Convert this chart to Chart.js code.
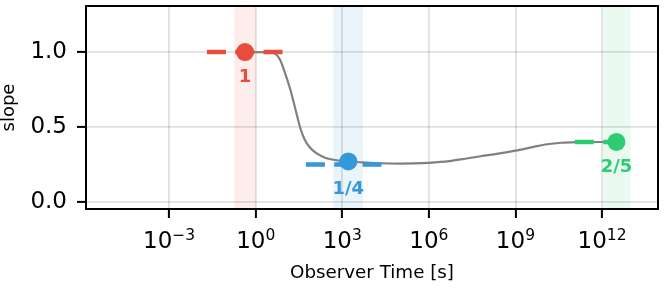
<!DOCTYPE html>
<html>
<head>
<meta charset="utf-8">
<title>slope vs observer time</title>
<script src="https://cdn.jsdelivr.net/npm/chart.js@4.4.1/dist/chart.umd.min.js"></script>
<style>
  body { margin:0; background:#fff; }
</style>
</head>
<body>
<canvas id="chart" width="666" height="289"></canvas>
<script>
// log10 of observer time [s] and the slope
var curveLogT  = [-0.37, 0.0, 0.55, 0.7, 0.84, 1.0, 1.2, 1.4, 1.55, 1.7, 1.85, 2.1, 2.45, 2.9, 3.21, 3.7, 4.3, 5.0, 5.5, 6.0, 6.7, 7.3, 7.8, 8.4, 9.0, 9.6, 10.1, 10.6, 11.1, 11.6, 12.5];
var curveSlope = [1.0, 1.0, 0.998, 0.985, 0.95, 0.87, 0.75, 0.6, 0.49, 0.415, 0.37, 0.325, 0.292, 0.276, 0.27, 0.264, 0.258, 0.256, 0.257, 0.261, 0.272, 0.29, 0.305, 0.322, 0.342, 0.366, 0.385, 0.395, 0.399, 0.4, 0.4];

// the three phases: marker, fitted level and shaded window
var phaseNames   = ['1', '1/4', '2/5'];
var phaseColors  = ['#e74c3c', '#3498db', '#2ecc71'];
var phaseLogT    = [-0.37, 3.21, 12.5];
var phaseSlope   = [1.0, 0.27, 0.40];
var fitLevel     = [1.0, 0.25, 0.40];
var fitFromLogT  = [-1.69, 1.74, 11.06];
var fitToLogT    = [0.93, 4.36, 12.5];
var bandFromLogT = [-0.74, 2.69, 12.03];
var bandToLogT   = [0.0, 3.71, 12.99];

var xTickExp = [-3, 0, 3, 6, 9, 12];
var yTicks   = [0, 0.5, 1.0];
var xMinExp = -5.88, xMaxExp = 13.94;
var yMin = -0.047, yMax = 1.307;

var FONT = 'DejaVu Sans';

function pow10(e) { return Math.pow(10, e); }

function rgba(hex, a) {
  var r = parseInt(hex.substr(1, 2), 16), g = parseInt(hex.substr(3, 2), 16), b = parseInt(hex.substr(5, 2), 16);
  return 'rgba(' + r + ',' + g + ',' + b + ',' + a + ')';
}

var datasets = [];

// markers on top
phaseNames.forEach(function(name, i) {
  datasets.push({
    data: [{x: pow10(phaseLogT[i]), y: phaseSlope[i]}],
    showLine: false,
    pointRadius: 9,
    pointBackgroundColor: phaseColors[i],
    pointBorderWidth: 0,
    order: 0
  });
});

// dashed fitted levels
phaseNames.forEach(function(name, i) {
  datasets.push({
    data: [{x: pow10(fitFromLogT[i]), y: fitLevel[i]}, {x: pow10(fitToLogT[i]), y: fitLevel[i]}],
    borderColor: phaseColors[i],
    borderWidth: 4.5,
    borderDash: [19, 9.3],
    borderCapStyle: 'butt',
    pointRadius: 0,
    order: 1
  });
});

datasets.push({
  data: curveLogT.map(function(t, i) { return {x: pow10(t), y: curveSlope[i]}; }),
  borderColor: '#808080',
  borderWidth: 2.2,
  pointRadius: 0,
  cubicInterpolationMode: 'monotone',
  order: 2
});

var bandsPlugin = {
  id: 'bands',
  beforeDraw: function(chart) {
    var ctx = chart.ctx, area = chart.chartArea, xs = chart.scales.x;
    ctx.save();
    phaseNames.forEach(function(name, i) {
      var x0 = xs.getPixelForValue(pow10(bandFromLogT[i]));
      var x1 = xs.getPixelForValue(pow10(bandToLogT[i]));
      ctx.fillStyle = rgba(phaseColors[i], 0.1);
      ctx.fillRect(x0, area.top, x1 - x0, area.bottom - area.top);
    });
    ctx.restore();
  },
  afterDatasetsDraw: function(chart) {
    var ctx = chart.ctx, xs = chart.scales.x, ys = chart.scales.y;
    ctx.save();
    ctx.font = 'bold 18px "' + FONT + '"';
    ctx.textAlign = 'center';
    ctx.textBaseline = 'middle';
    phaseNames.forEach(function(name, i) {
      ctx.fillStyle = phaseColors[i];
      ctx.fillText(name, xs.getPixelForValue(pow10(phaseLogT[i])), ys.getPixelForValue(fitLevel[i]) + 25);
    });
    ctx.restore();
  },
  afterDraw: function(chart) {
    var ctx = chart.ctx, a = chart.chartArea, xs = chart.scales.x;
    ctx.save();
    ctx.strokeStyle = '#000';
    ctx.lineWidth = 2;
    ctx.strokeRect(a.left, a.top, a.right - a.left, a.bottom - a.top);

    // x tick labels as 10 with a raised exponent
    ctx.fillStyle = '#000';
    ctx.textBaseline = 'alphabetic';
    ctx.textAlign = 'left';
    var baseFont = '23px "' + FONT + '"', expFont = '15.5px "' + FONT + '"';
    xTickExp.forEach(function(e) {
      var exp = (e < 0 ? '\u2212' : '') + Math.abs(e);
      ctx.font = baseFont;
      var wb = ctx.measureText('10').width;
      ctx.font = expFont;
      var we = ctx.measureText(exp).width;
      var x = xs.getPixelForValue(pow10(e)) - (wb + we) / 2;
      var y = a.bottom + 39.3;
      ctx.font = baseFont;
      ctx.fillText('10', x, y);
      ctx.font = expFont;
      ctx.fillText(exp, x + wb, y - 8.3);
    });
    ctx.restore();
  }
};

new Chart(document.getElementById('chart'), {
  type: 'line',
  data: { datasets: datasets },
  plugins: [bandsPlugin],
  options: {
    responsive: false,
    animation: false,
    layout: { autoPadding: false, padding: { left: 0, right: 8, top: 6, bottom: 0 } },
    plugins: { legend: { display: false }, tooltip: { enabled: false } },
    scales: {
      x: {
        type: 'logarithmic',
        min: pow10(xMinExp),
        max: pow10(xMaxExp),
        afterBuildTicks: function(scale) {
          scale.ticks = xTickExp.map(function(e) { return {value: pow10(e)}; });
        },
        afterFit: function(scale) {
          scale.height = 80;
          scale.paddingLeft = 0; scale.paddingRight = 0;
        },
        ticks: { display: false, autoSkip: false, maxRotation: 0 },
        grid: { color: 'rgba(0,0,0,0.12)', lineWidth: 1.8, tickColor: '#000', tickWidth: 2, tickLength: 9 },
        border: { display: false },
        title: {
          display: true,
          text: 'Observer Time [s]',
          color: '#000',
          font: { family: FONT, size: 18.3, lineHeight: 1 },
          padding: { top: 0, bottom: 7 }
        }
      },
      y: {
        type: 'linear',
        min: yMin,
        max: yMax,
        afterBuildTicks: function(scale) {
          scale.ticks = yTicks.map(function(v) { return {value: v}; });
        },
        afterFit: function(scale) {
          scale.width = 86;
          scale.paddingTop = 0; scale.paddingBottom = 0;
        },
        ticks: {
          padding: 10,
          color: '#000',
          font: { family: FONT, size: 23 },
          callback: function(v) { return v.toFixed(1); }
        },
        grid: { color: 'rgba(0,0,0,0.12)', lineWidth: 1.8, tickColor: '#000', tickWidth: 2, tickLength: 9 },
        border: { display: false },
        title: {
          display: true,
          text: 'slope',
          color: '#000',
          font: { family: FONT, size: 18, lineHeight: 1 },
          padding: { top: 0, bottom: 0 }
        }
      }
    }
  }
});
</script>
</body>
</html>
